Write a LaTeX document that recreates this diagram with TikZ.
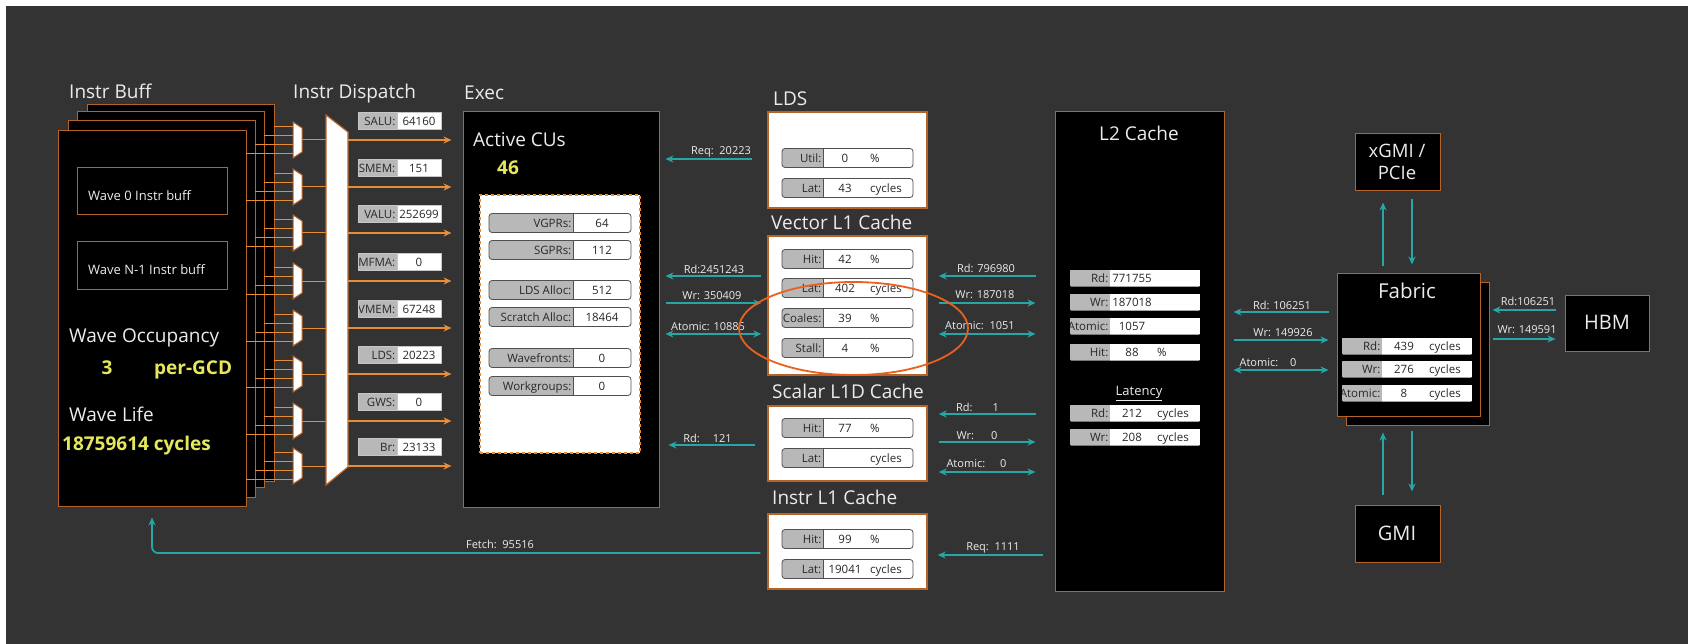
\documentclass[tikz,border=0pt]{standalone}
\usepackage{fontspec}
\setmainfont{Open Sans}
\usetikzlibrary{arrows.meta,fit}

\definecolor{bgdark}{RGB}{51,51,51}
\definecolor{edgeor}{RGB}{180,100,40}
\definecolor{flowor}{RGB}{234,140,52}
\definecolor{linkteal}{RGB}{38,166,166}
\definecolor{hiyel}{RGB}{230,232,92}
\definecolor{labgray}{RGB}{184,184,184}
\definecolor{txtlight}{RGB}{236,236,236}
\definecolor{txtdark}{RGB}{40,40,40}
\definecolor{ringor}{RGB}{236,96,30}
\definecolor{rowline}{RGB}{80,80,80}

\tikzset{
  unitbox/.style={draw=edgeor, fill=black, line width=1pt, inner sep=0pt},
  cachebox/.style={draw=edgeor, fill=white, line width=1.4pt, inner sep=0pt},
  heading/.style={text=txtlight, font=\fontsize{19}{22}\selectfont, inner sep=0pt, text height=13.6pt, text depth=0pt},
  bigval/.style={text=hiyel, font=\fontsize{19}{22}\selectfont\bfseries, inner sep=0pt, text height=13.6pt, text depth=0pt},
  smallnote/.style={text=txtlight, font=\fontsize{13}{15}\selectfont, inner sep=0pt, text height=9.3pt, text depth=0pt},
  flowlbl/.style={text=txtlight, font=\fontsize{11}{13}\selectfont, inner sep=0pt, text height=7.9pt, text depth=0pt},
  rowtxt/.style={text=txtdark, font=\fontsize{11.5}{13}\selectfont, inner sep=0pt, text height=8.2pt, text depth=0pt},
  rowedge/.style={draw=rowline, line width=0.8pt},
  tealline/.style={draw=linkteal, line width=1.8pt},
  tipR/.style={tealline, -{Stealth[length=8pt,width=7pt]}},
  tipLR/.style={tealline, {Stealth[length=8pt,width=7pt]}-{Stealth[length=8pt,width=7pt]}},
  orline/.style={draw=flowor, line width=1pt},
  orarrow/.style={draw=flowor, line width=1.4pt, -{Stealth[length=8pt,width=7pt]}},
}

% a statistic row: gray label cell, white value cell
% #1 name, #2 x left, #3 x split, #4 x right, #5 y centre, #6 label, #7 value, #8 unit
\newcommand{\rowr}{3pt}
\newcommand{\rowh}{9.5}
\newcommand{\rowv}{22}
\newcommand{\statrow}[8]{%
  \begin{scope}
    \clip[rounded corners=\rowr] (#2,#5-\rowh) rectangle (#4,#5+\rowh);
    \fill[labgray] (#2,#5-\rowh) rectangle (#3,#5+\rowh);
    \fill[white] (#3,#5-\rowh) rectangle (#4,#5+\rowh);
    \node[rowtxt, anchor=east] (#1) at (#3-1.5,#5) {#6};
  \end{scope}
  \path[rowedge, rounded corners=\rowr] (#2,#5-\rowh) rectangle (#4,#5+\rowh);
  \path[rowedge] (#3,#5-\rowh) -- (#3,#5+\rowh);
  \node[rowtxt] (#1v) at (#3+\rowv,#5) {#7};
  \node[rowtxt, anchor=west] (#1u) at (#3+47,#5) {#8};
}
% horizontal link between two nodes at height #4
\newcommand{\hflow}[6]{%
  \path (0,#4) coordinate (hy);
  \draw[#1, shorten <=#5pt, shorten >=#6pt] (#2 |- hy) -- (#3 |- hy);
}
% vertical link between two nodes at abscissa #4
\newcommand{\vflow}[6]{%
  \path (#4,0) coordinate (vx);
  \draw[#1, shorten <=#5pt, shorten >=#6pt] (#2 -| vx) -- (#3 -| vx);
}

\begin{document}
\begin{tikzpicture}[x=1pt,y=-1pt]
\path[use as bounding box, fill=white] (0,0) rectangle (1688,644);
\fill[bgdark] (6,6) rectangle (1688,644);

% ---------------- instruction buffer ----------------
\node[unitbox, fit={(87,105)(274,481)}] (buff4) {};
\node[unitbox, fit={(77,112)(264,487)}] (buff3) {};
\node[unitbox, fit={(68,121)(255,497)}] (buff2) {};
\node[unitbox, fit={(58,131)(246,506)}] (buff1) {};
\node[heading, anchor=west] (buffT) at (69,92) {Instr Buff};
\node[unitbox, fit={(77,168)(227,215)}] (wave0) {};
\node[smallnote, anchor=west] (wave0T) at (88,195.5) {Wave 0 Instr buff};
\node[unitbox, fit={(77,242)(227,289)}] (waveN) {};
\node[smallnote, anchor=west] (waveNT) at (88,270) {Wave N-1 Instr buff};
\node[heading, anchor=west] (occT) at (69,336) {Wave Occupancy};
\node[bigval] (occN) at (107,367.5) {3};
\node[bigval, anchor=west] (occU) at (154,367.5) {per-GCD};
\node[heading, anchor=west] (lifeT) at (69,415) {Wave Life};
\node[bigval, anchor=west] (lifeN) at (62,444) {18759614 cycles};

% ---------------- exec unit ----------------
\node[unitbox, fit={(463,112)(659,507)}] (exec) {};
\node[heading, anchor=west] (execT) at (464,93) {Exec};
\node[heading, anchor=west] (acuT) at (473,140) {Active CUs};
\node[bigval] (acuN) at (508,168) {46};
\node[draw=flowor, dashed, fill=white, line width=1.2pt, inner sep=0pt, fit={(480,195)(640,453)}] (res) {};
\renewcommand{\rowv}{29}
\statrow{vgpr}{489}{573}{631}{223}{VGPRs:}{64}{}
\statrow{sgpr}{489}{573}{631}{250}{SGPRs:}{112}{}
\statrow{ldsa}{489}{573}{631}{290}{LDS Alloc:}{512}{}
\statrow{scra}{489}{573}{631}{317}{Scratch Alloc:}{18464}{}
\statrow{wavf}{489}{573}{631}{358}{Wavefronts:}{0}{}
\statrow{wkgp}{489}{573}{631}{386}{Workgroups:}{0}{}

% ---------------- instruction dispatch ----------------
\node[heading, anchor=west] (dispT) at (293,92) {Instr Dispatch};
\foreach \y in {140,187,233,281,328,374,421,466}{
  \draw[orline] (274,\y-13.5) -- (293,\y-13.5)
                (264,\y-4.5) -- (293,\y-4.5)
                (255,\y+4.5) -- (293,\y+4.5)
                (246,\y+13.5) -- (293,\y+13.5)
                (302,\y) -- (326,\y);
  \filldraw[fill=white, draw=edgeor, line width=1pt]
     (293,\y-18) -- (302,\y-12) -- (302,\y+12) -- (293,\y+18) -- cycle;
}
\filldraw[fill=white, draw=edgeor, line width=1.2pt] (326,115) -- (348,132) -- (348,467) -- (326,485) -- cycle;
\renewcommand{\rowr}{0pt}
\renewcommand{\rowh}{8.5}
\renewcommand{\rowv}{22}
\tikzset{rowedge/.style={draw=gray!45, line width=0.6pt}}
\foreach \y/\lab/\val [count=\i] in {140/SALU:/64160, 187/SMEM:/151, 233/VALU:/252699, 281/MFMA:/0,
    328/VMEM:/67248, 374/LDS:/20223, 421/GWS:/0, 466/Br:/23133}{
  \statrow{disp\i}{358}{397}{441}{\y-19}{\lab}{\val}{}
  \path (0,\y) coordinate (dy);
  \draw[orarrow, shorten >=11pt] (348,\y) -- (exec.west |- dy);
}

% ---------------- LDS and L1 caches ----------------
\renewcommand{\rowr}{3pt}
\renewcommand{\rowh}{9.5}
\tikzset{rowedge/.style={draw=rowline, line width=0.8pt}}
\node[cachebox, fit={(768,112)(927,208)}] (lds) {};
\node[heading, anchor=west] (ldsT) at (773,99) {LDS};
\statrow{ldsU}{782}{823}{913}{158}{Util:}{0}{\%}
\statrow{ldsL}{782}{823}{913}{188}{Lat:}{43}{cycles}

\node[cachebox, fit={(768,236)(927,375)}] (vl1) {};
\node[heading, anchor=west] (vl1T) at (771,223) {Vector L1 Cache};
\statrow{vl1H}{782}{823}{913}{259}{Hit:}{42}{\%}
\statrow{vl1L}{782}{823}{913}{288}{Lat:}{402}{cycles}
\statrow{vl1C}{782}{823}{913}{318}{Coales:}{39}{\%}
\statrow{vl1S}{782}{823}{913}{348}{Stall:}{4}{\%}

\node[cachebox, fit={(768,406)(927,481)}] (sl1) {};
\node[heading, anchor=west] (sl1T) at (772,392) {Scalar L1D Cache};
\statrow{sl1H}{782}{823}{913}{428}{Hit:}{77}{\%}
\statrow{sl1L}{782}{823}{913}{458}{Lat:}{}{cycles}

\node[cachebox, fit={(768,514)(927,589)}] (il1) {};
\node[heading, anchor=west] (il1T) at (772,498) {Instr L1 Cache};
\statrow{il1H}{782}{823}{913}{539}{Hit:}{99}{\%}
\statrow{il1L}{782}{823}{913}{569}{Lat:}{19041}{cycles}

% ---------------- L2 cache ----------------
\node[unitbox, fit={(1055,112)(1224,591)}] (l2) {};
\node[heading] (l2T) at (1139,134) {L2 Cache};
\renewcommand{\rowr}{1pt}
\renewcommand{\rowh}{8.5}
\tikzset{rowedge/.style={draw=none}}
\statrow{l2R}{1070}{1110}{1200}{278}{Rd:}{771755}{}
\statrow{l2W}{1070}{1110}{1200}{302}{Wr:}{187018}{}
\statrow{l2A}{1070}{1110}{1200}{326}{Atomic:}{1057}{}
\statrow{l2H}{1070}{1110}{1200}{352}{Hit:}{88}{\%}
\node[smallnote] (latT) at (1139,391) {\underline{Latency}};
\statrow{l2LR}{1070}{1110}{1200}{413}{Rd:}{212}{cycles}
\statrow{l2LW}{1070}{1110}{1200}{437}{Wr:}{208}{cycles}

% ---------------- fabric and external links ----------------
\node[unitbox, fit={(1346,282)(1489,425)}] (fabback) {};
\node[unitbox, fit={(1337,273)(1480,416)}] (fab) {};
\node[heading, font=\fontsize{20.5}{24}\selectfont, text height=14.6pt] (fabT) at (1407,291) {Fabric};
\statrow{fabR}{1342}{1382}{1472}{346}{Rd:}{439}{cycles}
\statrow{fabW}{1342}{1382}{1472}{369}{Wr:}{276}{cycles}
\statrow{fabA}{1342}{1382}{1472}{393}{Atomic:}{8}{cycles}

\node[unitbox, fit={(1355,134)(1440,191)}] (xgmi) {};
\node[text=txtlight, font=\fontsize{18.5}{22}\selectfont, align=center, inner sep=0pt] (xgmiT) at (1397,162) {xGMI /\\PCIe};
\node[unitbox, fit={(1355,505)(1440,562)}] (gmi) {};
\node[heading, font=\fontsize{20}{24}\selectfont, text height=14.3pt] (gmiT) at (1397,533) {GMI};
\node[unitbox, fit={(1565,295)(1649,351)}] (hbm) {};
\node[heading, font=\fontsize{20}{24}\selectfont, text height=14.3pt] (hbmT) at (1607,322) {HBM};

% ---------------- data flows ----------------
\hflow{tipR}{lds.west}{exec.east}{159}{15}{6}
\node[flowlbl] (f1) at (721,150.5) {Req:\ \ 20223};
\hflow{tipR}{vl1.west}{exec.east}{276}{6}{6}
\node[flowlbl] (f2) at (714,270) {Rd:2451243};
\hflow{tipR}{exec.east}{vl1.west}{303}{6}{6}
\node[flowlbl] (f3) at (712,296) {Wr: 350409};
\hflow{tipLR}{exec.east}{vl1.west}{334}{6}{6}
\node[flowlbl] (f4) at (708,326.7) {Atomic: 10885};
\hflow{tipR}{sl1.west}{exec.east}{445}{12}{9}
\node[flowlbl] (f5) at (707.5,439) {Rd:\hspace{13pt}121};

\hflow{tipR}{l2.west}{vl1.east}{276}{19}{11}
\node[flowlbl] (f6) at (986,269) {Rd: 796980};
\hflow{tipR}{vl1.east}{l2.west}{303}{11}{19}
\node[flowlbl] (f7) at (985,295) {Wr: 187018};
\hflow{tipLR}{vl1.east}{l2.west}{334}{11}{19}
\node[flowlbl] (f8) at (980,326) {Atomic:\ \ 1051};
\hflow{tipR}{l2.west}{sl1.east}{414}{19}{11}
\node[flowlbl] (f9) at (977.5,408) {Rd:\hspace{20pt}1};
\hflow{tipR}{sl1.east}{l2.west}{442}{11}{19}
\node[flowlbl] (f10) at (977,435.5) {Wr:\hspace{17pt}0};
\hflow{tipLR}{sl1.east}{l2.west}{472}{11}{19}
\node[flowlbl] (f11) at (976.5,464) {Atomic:\hspace{15pt}0};
\hflow{tipR}{l2.west}{il1.east}{555}{12}{10}
\node[flowlbl] (f12) at (993,546.7) {Req:\ \ 1111};

\hflow{tipR}{fab.west}{l2.east}{312}{8}{9}
\node[flowlbl] (f13) at (1282,305.5) {Rd: 106251};
\hflow{tipR}{l2.east}{fab.west}{340}{9}{8}
\node[flowlbl] (f14) at (1283,333) {Wr: 149926};
\hflow{tipLR}{l2.east}{fab.west}{370}{9}{8}
\node[flowlbl] (f15) at (1268,363) {Atomic:\hspace{12pt}0};
\hflow{tipR}{hbm.west}{fabback.east}{310}{9}{3}
\node[flowlbl] (f16) at (1528,302) {Rd:106251};
\hflow{tipR}{fabback.east}{hbm.west}{339}{3}{9}
\node[flowlbl] (f17) at (1527,330) {Wr: 149591};

\vflow{tipR}{fab.north}{xgmi.south}{1383}{6}{11}
\vflow{tipR}{xgmi.south}{fab.north}{1412}{8}{8}
\vflow{tipR}{gmi.north}{fabback.south}{1383}{10}{7}
\vflow{tipR}{fabback.south}{gmi.north}{1412}{5}{13}

% instruction fetch back to the buffer
\path (0,553) coordinate (fy);
\draw[tipR, rounded corners=6pt, shorten <=7pt, shorten >=11pt] (il1.west |- fy) -| (buff1.south);
\node[flowlbl] (f18) at (500,545) {Fetch:\ \ 95516};

% highlight ring around the vector L1 coalescing rows
\draw[ringor, line width=1.8pt] (853.5,328.5) ellipse [x radius=114.5pt, y radius=46.5pt];
\end{tikzpicture}
\end{document}
